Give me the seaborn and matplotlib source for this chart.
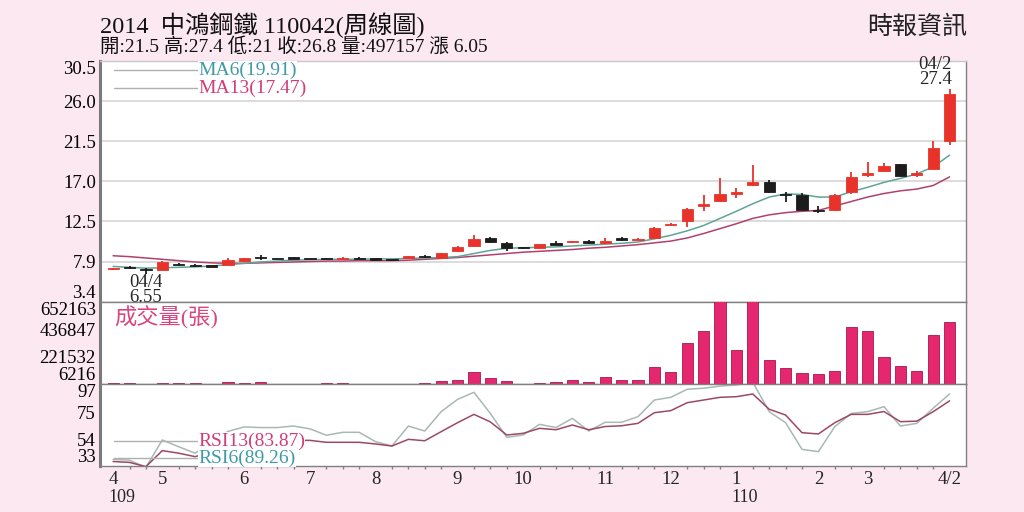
import numpy as np
import pandas as pd
import matplotlib
matplotlib.use("Agg")
import matplotlib.pyplot as plt
from matplotlib.lines import Line2D
import matplotlib.transforms as mtransforms
import seaborn as sns

# ---------------- data ----------------
weeks = list(range(52))
opens = [7.1, 7.3, 7.15, 7.05, 7.7, 7.6, 7.45, 7.6, 8.0, 8.4, 8.3, 8.35, 8.3, 8.3, 8.25, 8.3, 8.25, 8.2,
         8.3, 8.5, 8.4, 9.1, 9.7, 10.6, 10.0, 9.5, 9.5, 9.95, 10.1, 10.3, 10.0, 10.55, 10.4, 10.65, 12.05, 12.5,
         14.2, 14.8, 15.55, 16.6, 16.9, 15.55, 15.4, 13.7, 13.7, 15.75, 17.7, 18.15, 18.9, 17.75, 18.35, 21.5]
highs = [7.25, 7.45, 7.2, 8.0, 7.8, 7.65, 7.45, 8.4, 8.35, 8.65, 8.35, 8.5, 8.3, 8.35, 8.5, 8.45, 8.3, 8.2,
         8.6, 8.7, 8.95, 9.7, 10.9, 10.7, 10.1, 9.55, 9.95, 10.3, 10.3, 10.35, 10.6, 10.75, 10.6, 11.8, 12.3, 13.95,
         15.45, 17.3, 16.2, 18.8, 17.1, 15.8, 15.7, 14.2, 15.6, 18.0, 19.1, 19.0, 18.95, 18.1, 21.5, 27.4]
lows = [7.05, 7.15, 6.55, 7.0, 7.5, 7.35, 7.45, 7.55, 7.95, 8.15, 8.25, 8.3, 8.3, 8.2, 8.2, 8.25, 8.15, 8.2,
        8.25, 8.35, 8.35, 9.05, 9.6, 10.05, 9.15, 9.4, 9.45, 9.8, 10.05, 9.95, 9.95, 10.3, 10.35, 10.6, 11.9, 11.8,
        13.6, 14.7, 15.1, 16.5, 15.7, 14.6, 13.7, 13.4, 13.65, 15.6, 17.4, 18.0, 17.55, 17.5, 18.3, 21.0]
closes = [7.2, 7.3, 7.0, 7.95, 7.6, 7.4, 7.45, 8.1, 8.3, 8.4, 8.3, 8.35, 8.3, 8.25, 8.3, 8.3, 8.2, 8.2,
          8.55, 8.5, 8.9, 9.6, 10.45, 10.1, 9.45, 9.5, 9.9, 9.9, 10.25, 10.0, 10.3, 10.4, 10.5, 11.75, 12.1, 13.9,
          14.45, 15.55, 15.8, 16.85, 15.8, 15.45, 13.8, 13.6, 15.45, 17.5, 17.85, 18.7, 17.6, 17.85, 20.75, 26.8]
ma6 = [7.4, 7.3, 7.2, 7.25, 7.3, 7.35, 7.45, 7.6, 7.75, 7.9, 8.0, 8.1, 8.15, 8.2, 8.2, 8.2, 8.25, 8.25,
       8.3, 8.35, 8.4, 8.5, 8.85, 9.2, 9.45, 9.5, 9.55, 9.6, 9.7, 9.8, 9.9, 10.0, 10.15, 10.5, 10.9, 11.4,
       12.0, 12.8, 13.6, 14.45, 15.2, 15.55, 15.5, 15.2, 15.2, 15.8, 16.3, 16.85, 17.3, 17.8, 18.6, 19.91]
ma13 = [8.6, 8.5, 8.35, 8.2, 8.05, 7.9, 7.8, 7.75, 7.75, 7.8, 7.85, 7.9, 7.95, 8.0, 8.0, 8.05, 8.05, 8.05,
        8.1, 8.2, 8.3, 8.4, 8.55, 8.7, 8.85, 9.0, 9.1, 9.2, 9.3, 9.45, 9.55, 9.7, 9.85, 10.05, 10.25, 10.6,
        11.1, 11.65, 12.2, 12.8, 13.2, 13.45, 13.6, 13.7, 14.2, 14.7, 15.2, 15.6, 15.9, 16.1, 16.5, 17.47]
volume = [15000, 15000, 7000, 12000, 11000, 11000, 0, 24000, 15000, 20000, 0, 0, 0, 12000, 12000, 0, 0, 0,
          9000, 18000, 27000, 38000, 103000, 50000, 32000, 3000, 15000, 22000, 40000, 25000, 64000, 40000,
          38000, 137000, 103000, 326000, 424000, 700000, 274000, 700000, 192000, 129000, 90000, 82000,
          111000, 458000, 421000, 219000, 145000, 111000, 392000, 497157]
rsi6 = [38.2, 37.5, 32.0, 53.3, 48.0, 43.0, 52.0, 60.0, 63.5, 63.0, 63.0, 64.2, 62.0, 57.0, 59.3, 59.3, 52.0,
        48.6, 64.2, 60.3, 75.4, 85.0, 90.5, 74.0, 55.4, 57.2, 65.5, 63.0, 70.2, 60.3, 67.1, 67.1, 71.5, 84.5,
        86.6, 92.9, 93.7, 95.4, 96.2, 98.5, 75.4, 66.8, 46.0, 44.2, 63.7, 74.0, 75.4, 79.3, 64.2, 66.3, 78.1, 89.26]
rsi13 = [36.5, 35.8, 32.5, 45.0, 43.0, 40.3, 44.0, 48.0, 51.0, 52.0, 52.0, 53.0, 53.0, 51.5, 51.5, 51.5, 50.2,
         48.6, 53.8, 52.7, 59.8, 66.8, 73.3, 67.4, 57.2, 58.5, 62.4, 61.3, 65.0, 61.3, 63.8, 64.4, 66.3, 74.6,
         76.2, 82.4, 84.5, 86.6, 87.1, 89.2, 77.3, 72.8, 59.0, 58.0, 66.8, 73.3, 73.3, 75.5, 67.6, 68.0, 75.4, 83.87]

month_pos = [0, 3, 8, 12, 16, 21, 25, 30, 34, 38, 43, 46, 51]
month_labels = ['4', '5', '6', '7', '8', '9', '10', '11', '12', '1', '2', '3', '4/2']
year_pos = [0, 38]
year_labels = ['109', '110']
price_ticks = [3.4, 7.9, 12.5, 17.0, 21.5, 26.0, 30.5]
price_labels = ['3.4', '7.9', '12.5', '17.0', '21.5', '26.0', '30.5']
vol_ticks = [6216, 221532, 436847, 652163]
vol_labels = ['6216', '221532', '436847', '652163']
rsi_ticks = [33, 54, 75, 97]
rsi_labels = ['33', '54', '75', '97']

title_text = '2014  中鴻鋼鐵 110042(周線圖)'
info_text = '開:21.5 高:27.4 低:21 收:26.8 量:497157 漲 6.05'
source_text = '時報資訊'
ma6_label = 'MA6(19.91)'
ma13_label = 'MA13(17.47)'
vol_label = '成交量(張)'
rsi13_label = 'RSI13(83.87)'
rsi6_label = 'RSI6(89.26)'
high_note = ('04/2', '27.4')
low_note = ('04/4', '6.55')

# ---------------- style ----------------
sns.set_theme(style='white')
plt.rcParams['font.family'] = ['Liberation Serif', 'Noto Sans CJK TC', 'DejaVu Sans']
plt.rcParams['axes.unicode_minus'] = False

BG = '#fce8f0'
RED = '#e8332b'
BLACK = '#1c1c1c'
VOLC = '#e4276f'
VOLE = '#a8184c'
MA6C = '#5fa595'
MA13C = '#b2406e'
RSI6C = '#a9b8b4'
RSI13C = '#9c4868'
TEAL_T = '#3f9aa6'
PINK_T = '#d23c78'
SPINE = '#808080'

W, H = 1024, 512
fig = plt.figure(figsize=(W / 100, H / 100), dpi=100, facecolor=BG)


def rect(x0, y0, x1, y1):
    return [x0 / W, 1 - y1 / H, (x1 - x0) / W, (y1 - y0) / H]


axp = fig.add_axes(rect(100, 61, 966, 302))
axv = fig.add_axes(rect(100, 302, 966, 384), sharex=axp)
axr = fig.add_axes(rect(100, 384, 966, 466), sharex=axp)

df = pd.DataFrame({'week': weeks, 'open': opens, 'high': highs, 'low': lows, 'close': closes,
                   'ma6': ma6, 'ma13': ma13, 'volume': volume, 'rsi6': rsi6, 'rsi13': rsi13})

for ax in (axp, axv, axr):
    ax.set_facecolor('white')
    for s in ax.spines.values():
        s.set_color(SPINE)
        s.set_linewidth(1.0)
    ax.spines['left'].set_linewidth(2.2)
    ax.spines['left'].set_color('#7a7a7a')
    ax.tick_params(axis='y', length=0, pad=3, labelsize=13.5, colors='black')
    ax.grid(False)
axp.spines['top'].set_color('#c8c8c8')

# ---- price panel ----
for yv in price_ticks[1:-1]:
    axp.axhline(yv, color='#d9d9d9', lw=1.3, zorder=0)

sns.lineplot(data=df, x='week', y='ma13', ax=axp, color=MA13C, lw=1.1, zorder=2)
sns.lineplot(data=df, x='week', y='ma6', ax=axp, color=MA6C, lw=1.1, zorder=2)

up = df['close'] > df['open']
ccol = np.where(up, RED, BLACK)
raw_h = (df['close'] - df['open']).abs()
body_h = np.maximum(raw_h, 0.14)
body_lo = np.minimum(df['open'], df['close']) - (body_h - raw_h) / 2
axp.vlines(df['week'], df['low'], df['high'], colors=ccol, lw=1.3, zorder=3)
axp.bar(df['week'], body_h, bottom=body_lo, width=0.68, color=ccol, edgecolor=ccol, lw=0.6, zorder=4)

axp.set_ylim(3.4, 30.5)
axp.set_yticks(price_ticks)
axp.set_yticklabels(price_labels)
axp.set_xlabel('')
axp.set_ylabel('')
labs = axp.get_yticklabels()
labs[0].set_va('bottom')
labs[-1].set_va('top')

hi_idx = int(np.argmax(highs))
lo_idx = int(np.argmin(lows))
ptrans = mtransforms.blended_transform_factory(axp.transData, fig.transFigure)
axp.text(hi_idx + 0.15, 1 - 72 / H, high_note[0] + '\n' + high_note[1], transform=ptrans,
         ha='right', va='center', fontsize=13.5, linespacing=0.9, clip_on=False, zorder=6)
axp.text(lo_idx, 1 - 290 / H, low_note[0] + '\n' + low_note[1], transform=ptrans,
         ha='center', va='center', fontsize=13.5, linespacing=0.85, clip_on=False, zorder=6)

# ---- volume panel ----
sns.barplot(data=df, x='week', y='volume', ax=axv, native_scale=True, width=0.68, color=VOLC,
            saturation=1, edgecolor=VOLE, linewidth=0.6, errorbar=None, zorder=3)
axv.set_ylim(6216, 652163)
axv.set_yticks(vol_ticks)
axv.set_yticklabels(vol_labels)
axv.set_xlabel('')
axv.set_ylabel('')
vl = axv.get_yticklabels()
vl[0].set_va('bottom')
vl[-1].set_va('top')

# ---- RSI panel ----
sns.lineplot(data=df, x='week', y='rsi6', ax=axr, color=RSI6C, lw=1.1, zorder=2)
sns.lineplot(data=df, x='week', y='rsi13', ax=axr, color=RSI13C, lw=1.1, zorder=3)
axr.set_ylim(33, 97)
axr.set_yticks(rsi_ticks)
axr.set_yticklabels(rsi_labels)
axr.set_xlabel('')
axr.set_ylabel('')
rl = axr.get_yticklabels()
rl[0].set_va('bottom')
rl[-1].set_va('top')

# ---- x axis ----
axr.set_xlim(-0.8, 52.0)
axr.set_xticks(month_pos)
axr.set_xticklabels(month_labels)
axr.set_xticks(weeks, minor=True)
axr.tick_params(axis='x', which='major', length=3.5, width=1, color=SPINE, pad=0.0, labelsize=13.5)
axr.tick_params(axis='x', which='minor', length=2.5, width=1, color=SPINE, bottom=True)
for ax in (axp, axv):
    ax.tick_params(axis='x', which='both', bottom=False, labelbottom=False)
ytrans = mtransforms.blended_transform_factory(axr.transData, fig.transFigure)
for p, t in zip(year_pos, year_labels):
    axr.text(p - 0.3, 1 - 498 / H, t, transform=ytrans, ha='left', va='center', fontsize=13,
             clip_on=False)


# ---- header and legends (figure pixel coords) ----
def fx(px):
    return px / W


def fy(py):
    return 1 - py / H


fig.text(fx(100), fy(25), title_text, ha='left', va='center', fontsize=17.5, color='#111111')
fig.text(fx(100), fy(46.5), info_text, ha='left', va='center', fontsize=14, color='#111111')
fig.text(fx(967), fy(27), source_text, ha='right', va='center', fontsize=18,
         family=['Noto Sans CJK TC'], color='#222222')

for (y, lab, col) in [(70, ma6_label, TEAL_T), (88, ma13_label, PINK_T),
                      (441, rsi13_label, PINK_T), (458, rsi6_label, TEAL_T)]:
    fig.add_artist(Line2D([fx(114), fx(198)], [fy(y), fy(y)], color='#b0b0b0', lw=1.0,
                          transform=fig.transFigure))
    fig.text(fx(198), fy(y), lab, ha='left', va='center', fontsize=14, color=col,
             bbox=dict(facecolor='white', edgecolor='none', pad=0.3))

fig.text(fx(114), fy(318), vol_label, ha='left', va='center', fontsize=16, color='#d8457f')

fig.savefig('out.png', dpi=100, facecolor=BG)
